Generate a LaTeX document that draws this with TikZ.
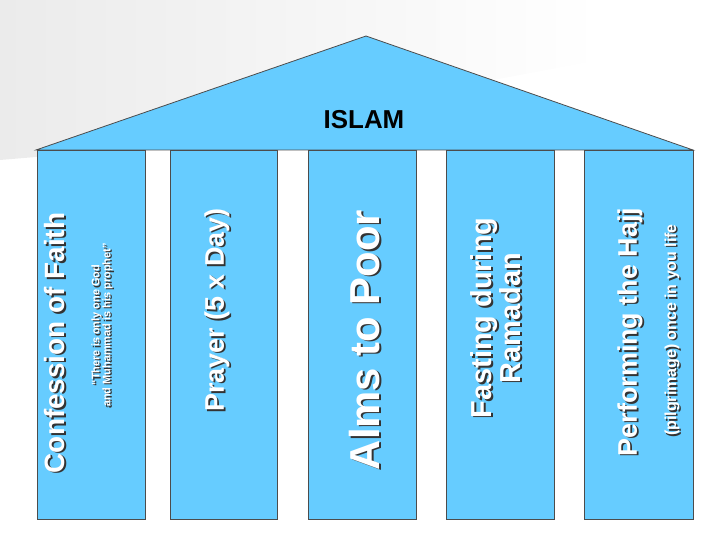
\documentclass[tikz,border=0pt]{standalone}
\usepackage{fontspec}
\setmainfont{Liberation Sans}
\usetikzlibrary{positioning}
\definecolor{pillarblue}{RGB}{102,204,255}
\definecolor{haze}{RGB}{235,235,235}

\tikzset{
  pillar/.style={draw=black!70, fill=pillarblue, line width=.8pt},
  big/.style={font=\bfseries\fontsize{#1}{#1}\selectfont, rotate=90, align=center, inner sep=0pt},
}
% white lettering with a dark shadow
\newcommand{\shadowtext}[4]{%
  \node [big=#2, text=black!80] at ([shift={(1.6,1.6)}]#1) {#4};
  \node [big=#2, text=white] (#3) at (#1) {#4};}

\begin{document}
\begin{tikzpicture}[x=1bp, y=-1bp]
        \useasboundingbox (0,0) rectangle (720,540);
        \shade [left color=haze, right color=white] (0,0) -- (600,0) -- (600,60) -- (120,150) -- (0,160) -- cycle;
        \draw [pillar] (36,150) -- (366,36) -- (693,150) -- cycle;
        \node [font=\bfseries\fontsize{26}{26}\selectfont] (islam) at (364,120) {ISLAM};
        \draw [pillar] (37,150) rectangle (145,519);
        \draw [pillar] (170,150) rectangle (277,519);
        \draw [pillar] (308,150) rectangle (416,519);
        \draw [pillar] (446,150) rectangle (554,519);
        \draw [pillar] (584,150) rectangle (693,519);
        \shadowtext{55,343}{28}{faith}{Confession of Faith}
        \shadowtext{102,325}{11}{god}{``There is only one God\\and Muhammad is his prophet''}
        \shadowtext{217,310}{27}{prayer}{Prayer (5 x Day)}
        \shadowtext{365,340}{42}{alms}{Alms to Poor}
        \shadowtext{496,318}{29}{fasting}{Fasting during\\Ramadan}
        \shadowtext{630,332}{27}{hajj}{Performing the Hajj}
        \shadowtext{672,330}{16}{pilgrim}{(pilgrimage) once in you life}
    \end{tikzpicture}
\end{document}
